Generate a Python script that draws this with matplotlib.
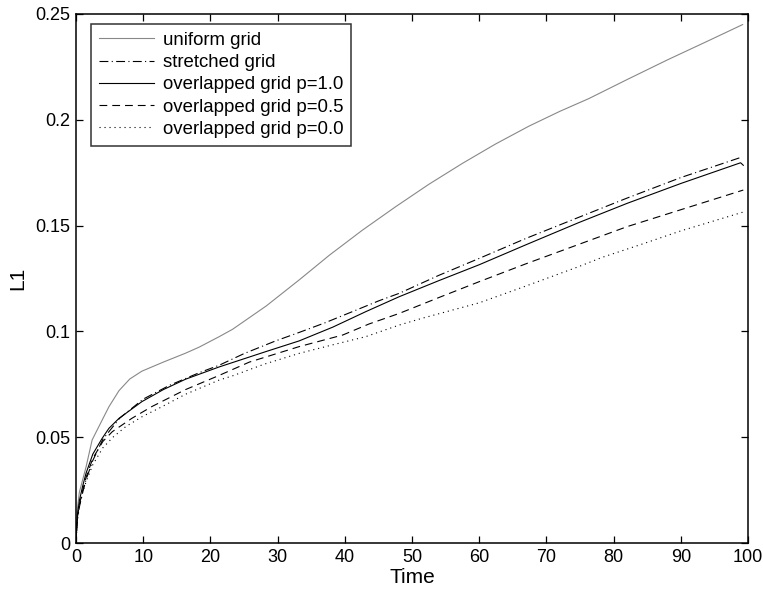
import matplotlib
matplotlib.use("Agg")
import matplotlib.pyplot as plt

plt.rcParams['font.family'] = ['Liberation Sans', 'DejaVu Sans']

# Data
t_uniform = [0, 0.2, 0.5, 1, 1.5, 2.4, 3.4, 4.9, 6.4, 8, 9.8, 13, 16.3, 18.35, 21.3, 23.3, 28.3, 33.2, 37.7, 42.6, 47.6, 52.5, 57.5, 62.4, 67.4, 72, 76.3, 82, 88, 94, 99.2]
l1_uniform = [0, 0.016, 0.024, 0.030, 0.036, 0.0487, 0.055, 0.0644, 0.0720, 0.0775, 0.0812, 0.0855, 0.0897, 0.0926, 0.0975, 0.1010, 0.1120, 0.1243, 0.1360, 0.1478, 0.1590, 0.1695, 0.1794, 0.1885, 0.1970, 0.2040, 0.2100, 0.2190, 0.2283, 0.2372, 0.2450]

t_stretched = [0, 0.2, 0.5, 1, 1.5, 2.5, 4, 6.5, 10, 13.9, 18.35, 21.3, 25, 29.7, 33.2, 37, 41.1, 45.1, 48.1, 54, 60, 67, 74.8, 82, 90, 99.0]
l1_stretched = [0, 0.011, 0.017, 0.024, 0.030, 0.039, 0.049, 0.059, 0.068, 0.0745, 0.0805, 0.0840, 0.0895, 0.0955, 0.0995, 0.1040, 0.1093, 0.1145, 0.118, 0.1265, 0.1345, 0.1440, 0.1539, 0.1630, 0.1727, 0.1823]

t_p10 = [0, 0.2, 0.5, 1, 1.5, 2.5, 3.9, 4.9, 6.4, 9.8, 13, 16.3, 21.3, 28.3, 33.2, 38.2, 43.1, 48.1, 54, 60, 67, 74.8, 82, 90, 98.9, 99.3]
l1_p10 = [0, 0.013, 0.020, 0.027, 0.033, 0.042, 0.0495, 0.0542, 0.0589, 0.0668, 0.0725, 0.0774, 0.0832, 0.0905, 0.0955, 0.1020, 0.1093, 0.1164, 0.1240, 0.1315, 0.1410, 0.1514, 0.1605, 0.1699, 0.1797, 0.1785]

t_p05 = [0, 0.2, 0.5, 1, 1.5, 2.5, 4, 5.4, 8.3, 11.3, 16.3, 21.3, 25.8, 33.2, 39.7, 43.6, 48.1, 54, 60, 67, 74.8, 82, 90, 99.3]
l1_p05 = [0, 0.012, 0.018, 0.025, 0.031, 0.040, 0.048, 0.0526, 0.0589, 0.0645, 0.0725, 0.0792, 0.0855, 0.0928, 0.0983, 0.1035, 0.1085, 0.1160, 0.1235, 0.1320, 0.1411, 0.1495, 0.1575, 0.1668]

t_p00 = [0, 0.2, 0.5, 1, 1.5, 2.5, 4, 5.5, 7.4, 10, 12.3, 16.3, 21.3, 23.3, 28, 33.2, 38, 43.1, 48.1, 51.5, 60, 67, 74.8, 78.3, 84, 90, 99.5]
l1_p00 = [0, 0.011, 0.017, 0.024, 0.029, 0.037, 0.045, 0.050, 0.055, 0.0600, 0.0636, 0.0703, 0.0770, 0.0790, 0.0845, 0.0896, 0.0935, 0.0975, 0.1030, 0.1062, 0.1135, 0.1215, 0.1306, 0.1350, 0.1410, 0.1475, 0.1566]

labels = ['uniform grid', 'stretched grid', 'overlapped grid p=1.0',
          'overlapped grid p=0.5', 'overlapped grid p=0.0']

x_ticks = [0, 10, 20, 30, 40, 50, 60, 70, 80, 90, 100]
y_ticks = [0, 0.05, 0.1, 0.15, 0.2, 0.25]
y_tick_labels = ['0', '0.05', '0.1', '0.15', '0.2', '0.25']

fig = plt.figure(figsize=(7.63, 5.95), dpi=100)
ax = fig.add_axes([76 / 763, 52 / 595, 672 / 763, 529 / 595])

lw = 0.8
ax.plot(t_uniform, l1_uniform, color='#888888', lw=lw, label=labels[0])
ax.plot(t_stretched, l1_stretched, color='black', lw=lw, dashes=(8, 3, 1, 3), label=labels[1])
ax.plot(t_p10, l1_p10, color='black', lw=lw, label=labels[2])
ax.plot(t_p05, l1_p05, color='black', lw=lw, dashes=(7, 4.5), label=labels[3])
ax.plot(t_p00, l1_p00, color='black', lw=lw, dashes=(1, 3.5), label=labels[4])

ax.set_xlim(0, 100)
ax.set_ylim(0, 0.25)
ax.set_xticks(x_ticks)
ax.set_yticks(y_ticks)
ax.set_yticklabels(y_tick_labels)
ax.tick_params(direction='in', length=5, width=0.9, top=True, right=True,
               labelsize=13, pad=4)
for s in ax.spines.values():
    s.set_linewidth(1.1)

ax.set_xlabel('Time', fontsize=15, labelpad=2)
ax.set_ylabel('L1', fontsize=15, labelpad=6)

leg = ax.legend(loc='upper left', bbox_to_anchor=(15 / 672, 1 - 10 / 529),
                fontsize=13.4, frameon=True, fancybox=False, edgecolor='black',
                handlelength=2.95, handletextpad=0.5, labelspacing=0.28,
                borderpad=0.42, borderaxespad=0)
leg.get_frame().set_linewidth(1.1)

fig.savefig('out.png', dpi=100)
